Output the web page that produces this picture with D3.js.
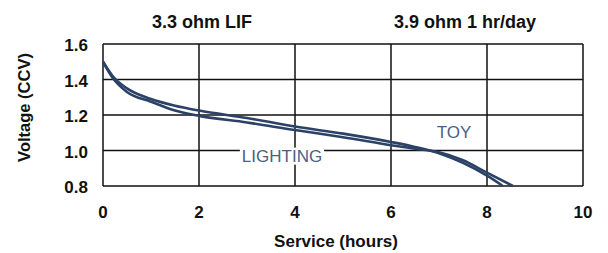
<!DOCTYPE html>
<html>
<head>
<meta charset="utf-8">
<style>
  body { margin: 0; background: #fff; }
  text { font-family: "Liberation Sans", Arial, sans-serif; }
</style>
</head>
<body>
<div id="chart"></div>
<script src="https://cdn.jsdelivr.net/npm/d3@7"></script>
<script>
// service hours vs closed-circuit voltage
var toyHours    = [0, 0.2, 0.5, 1, 1.5, 2, 3, 4, 5, 6, 6.5, 7, 7.5, 8, 8.33];
var toyVolts    = [1.5, 1.42, 1.35, 1.29, 1.252, 1.225, 1.183, 1.135, 1.095, 1.048, 1.02, 0.985, 0.93, 0.858, 0.8];
var lightHours  = [0, 0.2, 0.5, 1, 1.5, 2, 3, 4, 5, 6, 6.5, 7, 7.5, 8, 8.54];
var lightVolts  = [1.5, 1.41, 1.33, 1.275, 1.225, 1.195, 1.158, 1.115, 1.075, 1.03, 1.01, 0.99, 0.945, 0.875, 0.8];
var xTicks = [0, 2, 4, 6, 8, 10];
var yTicks = [0.8, 1.0, 1.2, 1.4, 1.6];
var titles = ["3.3 ohm LIF", "3.9 ohm 1 hr/day"];

var W = 608, H = 253;
var mLeft = 103, mRight = 583, mTop = 44, mBottom = 186;

var svg = d3.select("#chart").append("svg")
    .attr("width", W).attr("height", H);

var x = d3.scaleLinear().domain([0, 10]).range([mLeft, mRight]);
var y = d3.scaleLinear().domain([0.8, 1.6]).range([mBottom, mTop]);

// grid
svg.append("g").selectAll("line")
    .data(xTicks).enter().append("line")
    .attr("x1", d => x(d)).attr("x2", d => x(d))
    .attr("y1", mTop).attr("y2", mBottom)
    .attr("stroke", "#111").attr("stroke-width", 1.5);
svg.append("g").selectAll("line")
    .data(yTicks).enter().append("line")
    .attr("x1", mLeft).attr("x2", mRight)
    .attr("y1", d => y(d)).attr("y2", d => y(d))
    .attr("stroke", "#111").attr("stroke-width", 1.5);

// tick labels
svg.append("g").selectAll("text")
    .data(xTicks).enter().append("text")
    .attr("x", d => x(d)).attr("y", 218)
    .attr("text-anchor", "middle")
    .attr("font-size", 17).attr("font-weight", "bold").attr("fill", "#111")
    .text(d => d);
svg.append("g").selectAll("text")
    .data(yTicks).enter().append("text")
    .attr("x", 88).attr("y", d => y(d) + 1).attr("dy", "0.36em")
    .attr("text-anchor", "end")
    .attr("font-size", 17).attr("font-weight", "bold").attr("fill", "#111")
    .text(d => d.toFixed(1));

// axis titles
svg.append("text")
    .attr("transform", "translate(30,107.5) rotate(-90)")
    .attr("text-anchor", "middle")
    .attr("font-size", 16.5).attr("font-weight", "bold").attr("fill", "#111")
    .text("Voltage (CCV)");
svg.append("text")
    .attr("x", 336).attr("y", 247)
    .attr("text-anchor", "middle")
    .attr("font-size", 17).attr("font-weight", "bold").attr("fill", "#111")
    .text("Service (hours)");

// top titles
svg.append("g").selectAll("text")
    .data(titles).enter().append("text")
    .attr("x", (d, i) => i === 0 ? 202 : 465).attr("y", 28)
    .attr("text-anchor", "middle")
    .attr("font-size", 18).attr("font-weight", "bold").attr("fill", "#111")
    .text(d => d);

// curves
var line = d3.line()
    .x(d => x(d[0])).y(d => y(d[1]))
    .curve(d3.curveMonotoneX);

[[toyHours, toyVolts], [lightHours, lightVolts]].forEach(function(s) {
  var pts = s[0].map((h, i) => [h, s[1][i]]);
  svg.append("path")
      .datum(pts)
      .attr("d", line)
      .attr("fill", "none")
      .attr("stroke", "#2b4266")
      .attr("stroke-width", 2.6);
});

// labels
var labG = svg.append("g");
var bgRect = labG.append("rect").attr("fill", "#fff");
var lab = labG.append("text")
    .attr("x", 282).attr("y", 155.5)
    .attr("dy", "0.36em")
    .attr("text-anchor", "middle")
    .attr("font-size", 17).attr("fill", "#4a5f84")
    .text("LIGHTING");
var bb = lab.node().getBBox();
bgRect.attr("x", bb.x - 2).attr("y", bb.y + 1)
    .attr("width", bb.width + 4).attr("height", bb.height - 2);

svg.append("text")
    .attr("x", 454).attr("y", 131.5)
    .attr("dy", "0.36em")
    .attr("text-anchor", "middle")
    .attr("font-size", 17).attr("fill", "#4a5f84")
    .text("TOY");
</script>
</body>
</html>
